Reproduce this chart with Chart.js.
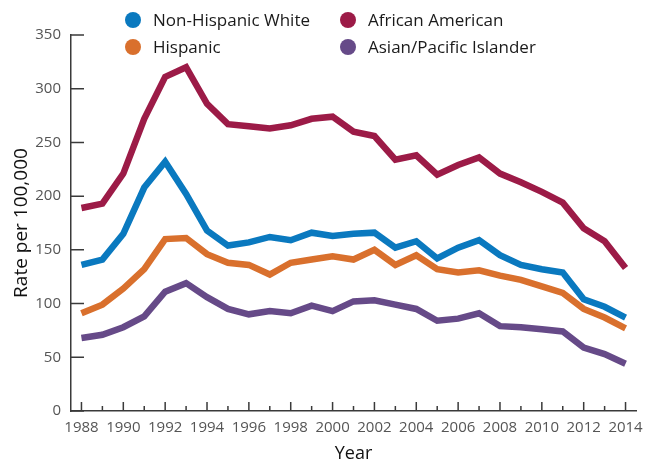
<!DOCTYPE html>
<html>
<head>
<meta charset="utf-8">
<script src="https://cdn.jsdelivr.net/npm/chart.js@4.4.1/dist/chart.umd.min.js"></script>
<style>
  html, body { margin: 0; padding: 0; background: #fff; }
  #wrap { position: relative; width: 652px; height: 465px; }
  #c { position: absolute; left: 0; top: 0; }
  #legend { position: absolute; left: 0; top: 0; width: 652px; height: 60px; font-family: "Open Sans", sans-serif; font-size: 17px; color: #1a1a1a; }
  .item { position: absolute; height: 24px; line-height: 24px; white-space: nowrap; }
  .dot { position: absolute; left: 0; top: 4px; width: 16px; height: 16px; border-radius: 50%; }
  .lbl { position: absolute; left: 28px; top: 0; }
</style>
</head>
<body>
<div id="wrap">
  <canvas id="c" width="652" height="465"></canvas>
  <div id="legend"></div>
</div>
<script>
const years = [1988,1989,1990,1991,1992,1993,1994,1995,1996,1997,1998,1999,2000,2001,2002,2003,2004,2005,2006,2007,2008,2009,2010,2011,2012,2013,2014];
const seriesNames = ["Non-Hispanic White", "African American", "Hispanic", "Asian/Pacific Islander"];
const white    = [136,141,165,208,232,202,168,154,157,162,159,166,163,165,166,152,158,142,152,159,145,136,132,129,104,97,87];
const african  = [189,193,221,272,311,320,286,267,265,263,266,272,274,260,256,234,238,220,229,236,221,213,204,194,170,158,133];
const hispanic = [91,99,114,132,160,161,146,138,136,127,138,141,144,141,150,136,145,132,129,131,126,122,116,110,95,87,77];
const asian    = [68,71,78,88,111,119,106,95,90,93,91,98,93,102,103,99,95,84,86,91,79,78,76,74,59,53,44];
const yTicks = [0,50,100,150,200,250,300,350];

const colors = ["#0a79bf", "#9c1b47", "#d9702d", "#664a88"];
const allData = [white, african, hispanic, asian];

const tickFont = { family: "Open Sans", size: 15 };
const axisColor = "#3a3a3a";

const inwardTicks = {
  id: 'inwardTicks',
  afterDraw(chart) {
    const ctx = chart.ctx;
    const x = chart.scales.x, y = chart.scales.y;
    const area = chart.chartArea;
    ctx.save();
    ctx.strokeStyle = axisColor;
    ctx.lineWidth = 1.5;
    ctx.beginPath();
    x.ticks.forEach((t, i) => {
      const px = x.getPixelForTick(i);
      const len = years[i] % 2 === 0 ? 9 : 5;
      ctx.moveTo(px, area.bottom);
      ctx.lineTo(px, area.bottom - len);
    });
    y.ticks.forEach((t, i) => {
      const py = y.getPixelForTick(i);
      ctx.moveTo(area.left, py);
      ctx.lineTo(area.left + 13, py);
    });
    ctx.stroke();
    ctx.restore();
  }
};

const chart = new Chart(document.getElementById('c'), {
  type: 'line',
  data: {
    labels: years.map(String),
    datasets: seriesNames.map((name, i) => ({
      label: name,
      data: allData[i],
      borderColor: colors[i],
      backgroundColor: colors[i],
      borderWidth: 6.5,
      pointRadius: 0,
      pointHoverRadius: 0,
      tension: 0,
      fill: false,
      borderJoinStyle: 'miter',
      borderCapStyle: 'butt'
    }))
  },
  options: {
    responsive: false,
    animation: false,
    devicePixelRatio: 1,
    layout: { padding: { top: 35, right: 16, left: 0, bottom: 0 } },
    plugins: {
      legend: { display: false },
      tooltip: { enabled: false }
    },
    scales: {
      x: {
        type: 'category',
        offset: true,
        grid: { display: false, drawTicks: false, offset: false },
        border: { display: true, color: axisColor, width: 1.5 },
        ticks: {
          autoSkip: false,
          maxRotation: 0,
          minRotation: 0,
          padding: 8,
          color: "#555",
          font: tickFont,
          callback: function(val, i) { return years[i] % 2 === 0 ? String(years[i]) : ''; }
        },
        title: { display: true, text: 'Year', color: '#111', font: { family: "Open Sans", size: 18 }, padding: { top: 0, bottom: 0 } },
        afterFit(scale) { scale.height = 54; }
      },
      y: {
        min: 0,
        max: 350,
        grid: { display: false, drawTicks: false },
        border: { display: true, color: axisColor, width: 1.5 },
        afterBuildTicks(scale) { scale.ticks = yTicks.map(v => ({ value: v })); },
        ticks: {
          padding: 10,
          color: "#555",
          font: tickFont
        },
        title: { display: true, text: 'Rate per 100,000', color: '#111', font: { family: "Open Sans", size: 19 }, padding: { top: 10, bottom: 0 } },
        afterFit(scale) { scale.width = 71; }
      }
    }
  },
  plugins: [inwardTicks]
});

// HTML legend built from the chart's datasets (two columns)
const legend = document.getElementById('legend');
const colX = [125, 340];
const rowY = [8, 35];
chart.data.datasets.forEach((ds, i) => {
  const col = i % 2, row = Math.floor(i / 2);
  const item = document.createElement('div');
  item.className = 'item';
  item.style.left = colX[col] + 'px';
  item.style.top = rowY[row] + 'px';
  const dot = document.createElement('span');
  dot.className = 'dot';
  dot.style.background = ds.borderColor;
  const lbl = document.createElement('span');
  lbl.className = 'lbl';
  lbl.textContent = ds.label;
  item.appendChild(dot);
  item.appendChild(lbl);
  legend.appendChild(item);
});
</script>
</body>
</html>
